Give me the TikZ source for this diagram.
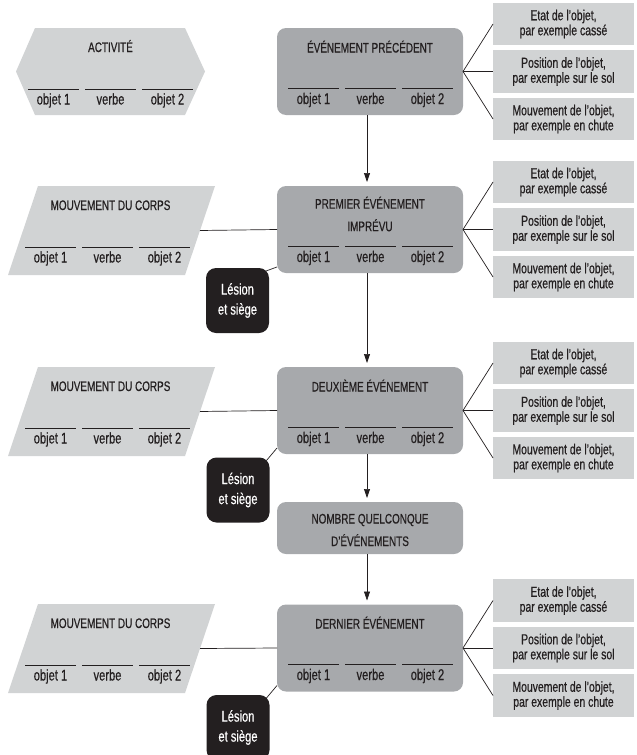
\documentclass[tikz,border=0pt]{standalone}
\usepackage{fontspec}
\setmainfont{Liberation Sans}[FakeStretch=0.72,FakeBold=0.5]
\usetikzlibrary{arrows.meta,backgrounds}
\definecolor{ink}{HTML}{231F20}
\definecolor{evgray}{HTML}{A7A9AC}
\definecolor{ltgray}{HTML}{D1D3D4}
% three underlined labels: #1 name prefix, #2 x of first line, #3 y of underline
\newcommand\objrow[3]{%
  \foreach \k/\t [count=\i from 0] in {a/objet 1,b/verbe,c/objet 2}{%
    \draw[uline] (#2+57*\i,#3) -- (#2+57*\i+51,#3);
    \node[lbl] (#1\k) at (#2+57*\i+25.5,#3+15.5) {\t};
  }}
% the three boxes on the right of an event: #1 event node, #2 centre y
\newcommand\rightset[2]{%
  \node[rbox] (#1x) at (563.5,#2-47.5) {Etat de l’objet,\\par exemple cassé};
  \node[rbox] (#1y) at (563.5,#2) {Position de l’objet,\\par exemple sur le sol};
  \node[rbox] (#1z) at (563.5,#2+47.5) {Mouvement de l’objet,\\par exemple en chute};
  \draw[conn] (#1x.west) -- (#1.east) -- (#1z.west);
  \draw[conn] (#1.east) -- (#1y.west);
}
% body movement parallelogram: #1 name, #2 top y
\newcommand\corpsbox[2]{%
  \fill[ltgray] (38,#2) -- (215,#2) -- (185,#2+89) -- (8,#2+89) -- cycle;
  \node[title] (#1t) at (110.5,#2+24) {MOUVEMENT DU CORPS};
  \coordinate (#1) at (200,#2+44.5);
  \objrow{#1}{25}{#2+61}
}
\begin{document}
\begin{tikzpicture}[x=1pt,y=-1pt,
  every node/.style={inner sep=0pt,outer sep=0pt},
  evbox/.style={fill=evgray,rounded corners=9pt,minimum width=186pt,minimum height=87pt},
  rbox/.style={fill=ltgray,minimum width=141pt,minimum height=42.5pt,align=center,
    text=ink,font=\fontsize{14.5}{15}\selectfont},
  lesion/.style={fill=ink,rounded corners=10pt,minimum width=63pt,minimum height=65pt,
    text=white,align=center,font=\fontsize{15.5}{20}\selectfont},
  title/.style={text=ink,anchor=base,align=center,font=\fontsize{13.8}{22.5}\selectfont},
  title2/.style={text=ink,anchor=center,align=center,font=\fontsize{13.8}{22.5}\selectfont},
  lbl/.style={text=ink,anchor=base,font=\fontsize{15.5}{16}\selectfont},
  uline/.style={draw=ink,line width=1pt},
  conn/.style={draw=ink,line width=0.7pt},
  arr/.style={conn,shorten >=4pt,-{Triangle[length=9pt,width=6pt]}}]
\useasboundingbox (0,0) rectangle (637,755);

% activity hexagon
\fill[ltgray] (35,28) -- (185,28) -- (205,71.5) -- (185,115) -- (35,115) -- (16,71.5) -- cycle;
\node[title] (act) at (110.5,52) {ACTIVITÉ};
\objrow{act}{28}{89}

% events
\node[evbox] (e0) at (370,71.5) {};
\node[title] (e0t) at (370,52.5) {ÉVÉNEMENT PRÉCÉDENT};
\objrow{e0}{288}{88.5}

\node[evbox] (e1) at (370,229.5) {};
\node[title2] (e1t) at (370,214) {PREMIER ÉVÉNEMENT\\IMPRÉVU};
\objrow{e1}{288}{246.5}

\node[evbox] (e2) at (370,410.5) {};
\node[title] (e2t) at (370,391.5) {DEUXIÈME ÉVÉNEMENT};
\objrow{e2}{288}{427.5}

\node[evbox,minimum height=52pt] (nq) at (370,528) {};
\node[title2] (nqt) at (370,530) {NOMBRE QUELCONQUE\\D’ÉVÉNEMENTS};

\node[evbox] (e3) at (370,648) {};
\node[title] (e3t) at (370,628.5) {DERNIER ÉVÉNEMENT};
\objrow{e3}{288}{664.5}

% right-hand boxes
\rightset{e0}{71.5}
\rightset{e1}{229.5}
\rightset{e2}{410.5}
\rightset{e3}{648}

% body movements
\corpsbox{p1}{186}
\corpsbox{p2}{367}
\corpsbox{p3}{604}
\draw[conn] (p1) -- (e1.west);
\draw[conn] (p2) -- (e2.west);
\draw[conn] (p3) -- (e3.west);

% lesions
\node[lesion] (l1) at (237.5,300.5) {Lésion\\et siège};
\node[lesion] (l2) at (238,490) {Lésion\\et siège};
\node[lesion] (l3) at (238,727.5) {Lésion\\et siège};
\begin{scope}[on background layer]
\draw[conn] ([xshift=-3pt,yshift=-3pt]l1.north east) -- ([yshift=6pt]e1.south west);
\draw[conn] ([xshift=-3pt,yshift=-3pt]l2.north east) -- ([yshift=6pt]e2.south west);
\draw[conn] ([xshift=-3pt,yshift=-3pt]l3.north east) -- ([yshift=6pt]e3.south west);
\end{scope}

% flow arrows
\draw[arr] ([xshift=-3pt]e0.south) -- ([xshift=-3pt]e1.north);
\draw[arr] ([xshift=-3pt]e1.south) -- ([xshift=-3pt]e2.north);
\draw[arr] ([xshift=-3pt]e2.south) -- ([xshift=-3pt]nq.north);
\draw[arr] ([xshift=-3pt]nq.south) -- ([xshift=-3pt]e3.north);
\end{tikzpicture}
\end{document}
